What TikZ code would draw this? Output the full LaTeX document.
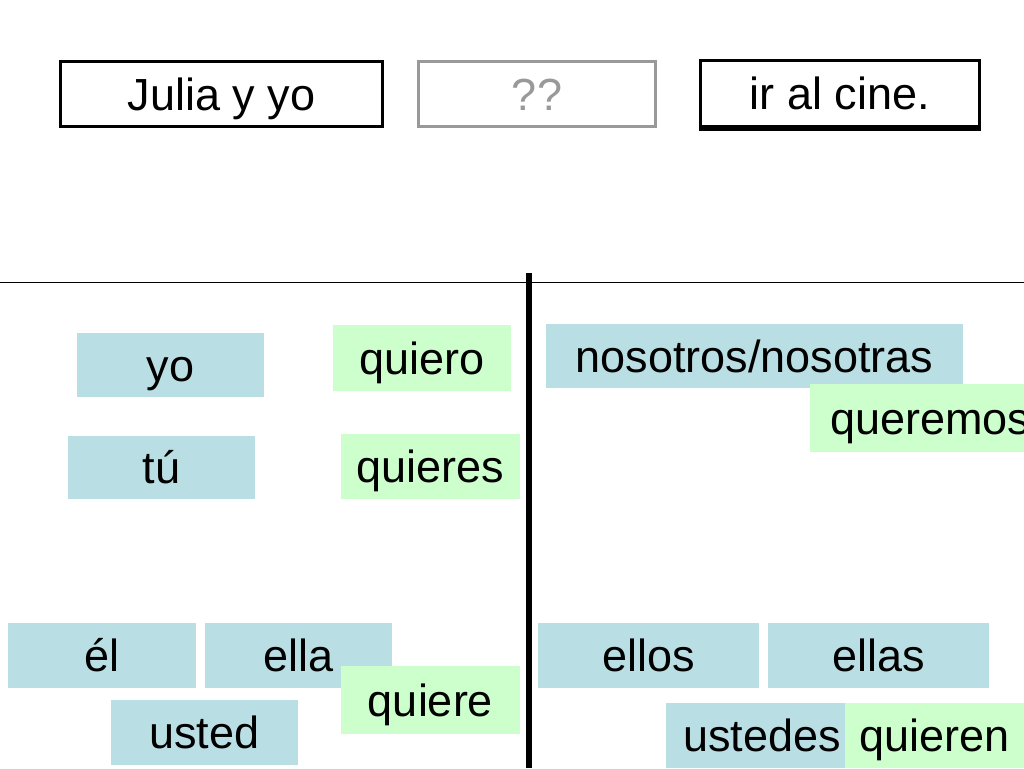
\documentclass[tikz,border=0pt]{standalone}
\usepackage{fontspec}
\setmainfont{Liberation Sans}
\usepackage{tikz}
\definecolor{pronounblue}{RGB}{185,222,227}
\definecolor{verbgreen}{RGB}{204,255,204}
\definecolor{slotgray}{RGB}{153,153,153}
\tikzset{
    % common look of every card
    card/.style={
        rectangle,
        inner sep=0pt,
        font=\fontsize{45}{54}\selectfont,
        text height=32pt,
        text depth=0pt
    },
    pronoun/.style={card, fill=pronounblue},
    verb/.style={card, fill=verbgreen},
    % framed boxes of the sentence at the top
    slot/.style={card, draw, line width=3pt}
}
\begin{document}
\begin{tikzpicture}[x=1pt, y=-1pt]
            \clip (0,0) rectangle (1024,768);
            \fill[white] (0,0) rectangle (1024,768);
            % the sentence
            \node[slot, minimum width=322, minimum height=65] (subject) at (221.5,94) {Julia y yo};
            \node[slot, draw=slotgray, text=slotgray, minimum width=237, minimum height=65] (gap) at (537,94) {??};
            \node[slot, minimum width=279, minimum height=66] (cine) at (840,93.5) {ir al cine.};
            \draw[line width=3pt] ([yshift=-1pt]cine.south west) -- ([yshift=-1pt]cine.south east);
            % the dividing lines
            \coordinate (hl) at (0,282);
            \coordinate (hr) at (1024,282);
            \coordinate (vt) at (529,273);
            \coordinate (vb) at (529,768);
            \draw[line width=1pt] (hl) -- (hr);
            \draw[line width=6pt] (vt) -- (vb);
            % singular
            \node[pronoun, minimum width=187, minimum height=64] (yo) at (170.5,365) {yo};
            \node[verb, minimum width=178, minimum height=66] (quiero) at (422,358) {quiero};
            \node[pronoun, minimum width=187, minimum height=63] (tu) at (161.5,467.5) {tú};
            \node[verb, minimum width=179, minimum height=65] (quieres) at (430.5,466.5) {quieres};
            \node[pronoun, minimum width=188, minimum height=65] (el) at (102,655.5) {él};
            \node[pronoun, minimum width=187, minimum height=65] (ella) at (298.5,655.5) {ella};
            \node[verb, minimum width=179, minimum height=68] (quiere) at (430.5,700) {quiere};
            \node[pronoun, minimum width=187, minimum height=65] (usted) at (204.5,732.5) {usted};
            % plural
            \node[pronoun, minimum width=417, minimum height=64] (nosotros) at (754.5,356) {nosotros/nosotras};
            \node[verb, anchor=west, inner xsep=20pt, minimum height=68] (queremos) at (810,418) {queremos};
            \node[pronoun, minimum width=221, minimum height=65] (ellos) at (648.5,655.5) {ellos};
            \node[pronoun, minimum width=221, minimum height=65] (ellas) at (878.5,655.5) {ellas};
            \node[pronoun, minimum width=192, minimum height=65] (ustedes) at (762,735.5) {ustedes};
            \node[verb, minimum width=179, minimum height=65] (quieren) at (934.5,735.5) {quieren};
        \end{tikzpicture}
\end{document}
